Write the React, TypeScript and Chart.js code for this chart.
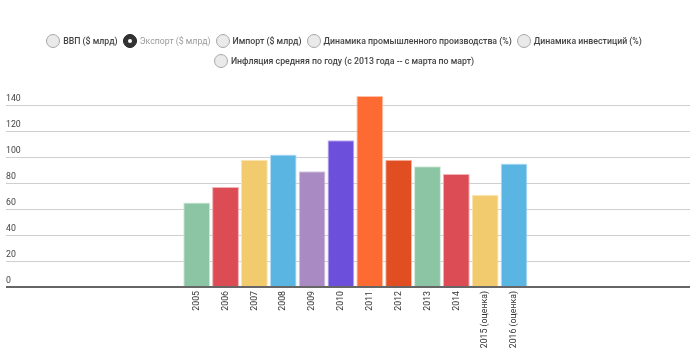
import React, { useEffect, useRef } from "react";
import { Chart, registerables } from "chart.js";

Chart.register(...registerables);

const categories = [
  "2005", "2006", "2007", "2008", "2009", "2010",
  "2011", "2012", "2013", "2014", "2015 (оценка)", "2016 (оценка)",
];
const exportValues = [65, 77, 98, 102, 89, 113, 147, 98, 93, 87, 71, 95];
const barColors = [
  "#8cc5a3", "#dc4c55", "#f1cb6d", "#5bb5e3", "#a98ac3", "#6c50dc",
  "#fd6b33", "#e14e22", "#8cc5a3", "#dc4c55", "#f1cb6d", "#5bb5e3",
];
const barBorders = [
  "#cfe8d9", "#f0b4b7", "#fae6b5", "#bfe2f4", "#d9cae6", "#bcb0f0",
  "#fec0a6", "#f3b8a4", "#cfe8d9", "#f0b4b7", "#fae6b5", "#bfe2f4",
];
const yTickValues = [0, 20, 40, 60, 80, 100, 120, 140];
const legendRow1 = [
  "ВВП ($ млрд)",
  "Экспорт ($ млрд)",
  "Импорт ($ млрд)",
  "Динамика промышленного производства (%)",
  "Динамика инвестиций (%)",
];
const legendRow2 = ["Инфляция средняя по году (с 2013 года -- с марта по март)"];
const selectedLegend = "Экспорт ($ млрд)";

const FONT_SIZE = 8.75;

function LegendItem({ label }: { label: string }) {
  const selected = label === selectedLegend;
  return (
    <div style={{ display: "flex", alignItems: "center", marginRight: 5 }}>
      <div
        style={{
          width: 14,
          height: 14,
          borderRadius: "50%",
          boxSizing: "border-box",
          background: selected ? "#333" : "#eaeaea",
          border: selected ? "1px solid #222" : "1px solid #a8a8a8",
          display: "flex",
          alignItems: "center",
          justifyContent: "center",
          marginRight: 3,
        }}
      >
        {selected && (
          <div style={{ width: 4, height: 4, borderRadius: "50%", background: "#fff" }} />
        )}
      </div>
      <span
        style={{
          fontFamily: "Roboto",
          fontSize: FONT_SIZE,
          fontWeight: selected ? 400 : 500,
          color: selected ? "#9a9a9a" : "#444",
          whiteSpace: "nowrap",
        }}
      >
        {label}
      </span>
    </div>
  );
}

export default function App() {
  const canvasRef = useRef<HTMLCanvasElement | null>(null);

  useEffect(() => {
    const canvas = canvasRef.current;
    if (!canvas) return;
    const chart = new Chart(canvas, {
      type: "bar",
      data: {
        datasets: [
          {
            label: "Экспорт ($ млрд)",
            data: exportValues.map((v, i) => ({ x: i, y: v })),
            backgroundColor: barColors,
            borderColor: barBorders,
            borderWidth: 1,
            barPercentage: 0.93,
            categoryPercentage: 1,
          },
        ],
      },
      options: {
        responsive: false,
        animation: false,
        devicePixelRatio: 1,
        layout: { padding: { left: 6, right: 10, top: 96, bottom: 0 } },
        plugins: { legend: { display: false }, tooltip: { enabled: false } },
        scales: {
          x: {
            type: "linear",
            offset: false,
            min: -6.61,
            max: 17.1,
            grid: { display: false, drawTicks: false },
            border: { display: false },
            afterBuildTicks: (scale: any) => {
              scale.ticks = categories.map((_, i) => ({ value: i }));
            },
            afterFit: (scale: any) => {
              scale.height = 71;
            },
            ticks: {
              autoSkip: false,
              minRotation: 90,
              maxRotation: 90,
              padding: 4,
              color: "#333",
              font: { family: "Roboto", size: FONT_SIZE },
              callback: (value: any) => categories[value as number] ?? "",
            },
          },
          y: {
            min: 0,
            max: 147,
            border: { display: false },
            afterBuildTicks: (scale: any) => {
              scale.ticks = yTickValues.map((v) => ({ value: v }));
            },
            afterFit: (scale: any) => {
              scale.width = 0;
            },
            grid: {
              drawTicks: false,
              color: (ctx: any) => (ctx.tick && ctx.tick.value === 0 ? "#666" : "#cfcfcf"),
              lineWidth: (ctx: any) => (ctx.tick && ctx.tick.value === 0 ? 2 : 1),
            },
            ticks: {
              mirror: true,
              padding: 0,
              labelOffset: -6,
              color: "#444",
              font: { family: "Roboto", size: FONT_SIZE },
            },
          },
        },
      },
    });
    return () => chart.destroy();
  }, []);

  return (
    <div
      style={{
        position: "absolute",
        left: 0,
        top: 0,
        width: 700,
        height: 358,
        background: "#fff",
      }}
    >
      <canvas
        ref={canvasRef}
        width={700}
        height={358}
        style={{ position: "absolute", left: 0, top: 0, width: 700, height: 358 }}
      />
      <div style={{ position: "absolute", left: 0, top: 34, width: 688 }}>
        <div style={{ display: "flex", justifyContent: "center", height: 14, paddingLeft: 5 }}>
          {legendRow1.map((l) => (
            <LegendItem key={l} label={l} />
          ))}
        </div>
        <div
          style={{ display: "flex", justifyContent: "center", height: 14, marginTop: 6, paddingLeft: 5 }}
        >
          {legendRow2.map((l) => (
            <LegendItem key={l} label={l} />
          ))}
        </div>
      </div>
    </div>
  );
}
